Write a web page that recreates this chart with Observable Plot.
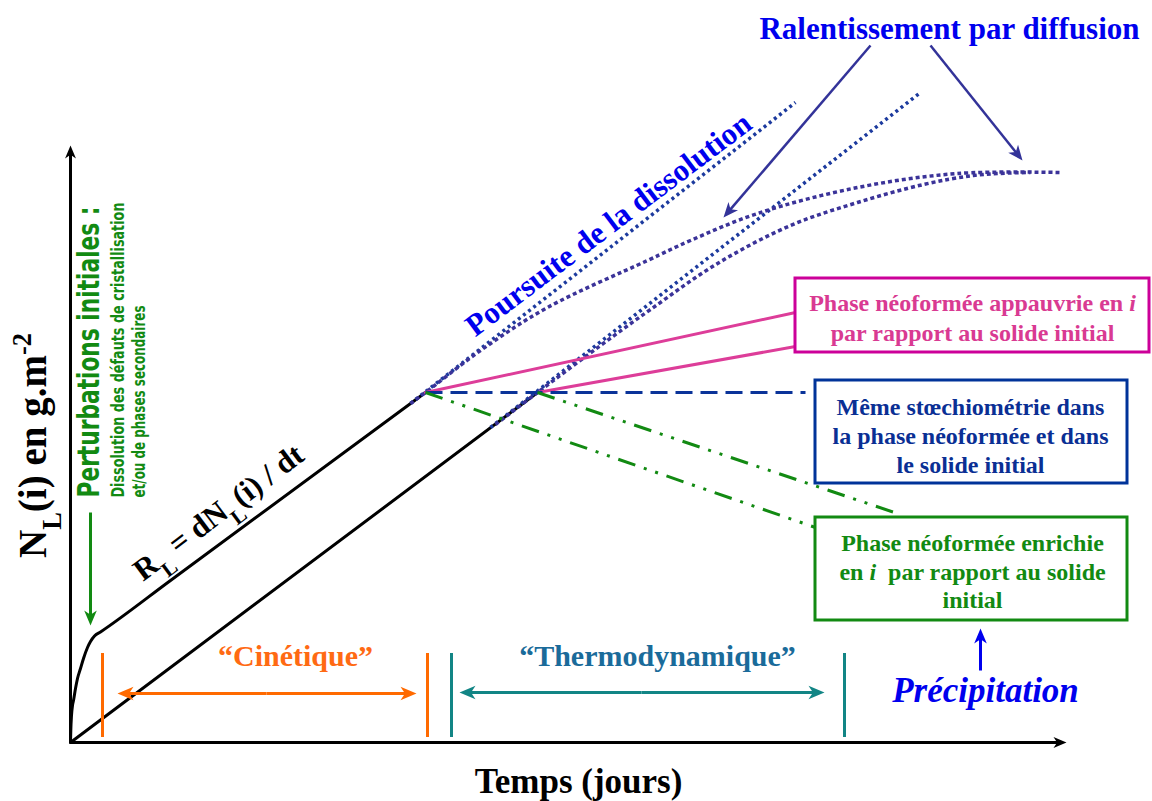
<!DOCTYPE html>
<html><head><meta charset="utf-8">
<script src="https://cdn.jsdelivr.net/npm/d3@7"></script>
<script src="https://cdn.jsdelivr.net/npm/@observablehq/plot@0.6"></script>
<style>body{margin:0;background:#fff} #chart svg{display:block}</style>
</head><body><div id="chart"></div>
<script>
// ---- data (t = temps, n = N_L(i)), schematic units ----
const blackFast = [[0,0],[0.03,1.2],[0.1,2.7],[0.2,3.7],[0.3,4.2],[0.5,5.4],[0.7,6.4],[1.0,7.4],[1.3,8.4],[1.7,9.5],[2.0,10.1],[2.4,10.65],[3.0,11.05],[10,16.2],[35.5,35.0]];
const blackLinear = [[0,0],[46.7,35.0]];
const dissolutionA = [[34.0,33.9],[72.5,64.0]];
const dissolutionB = [[42.0,31.5],[85.0,65.0]];
const diffusionA = [[34.0,33.9],[35.5,35.0],[41.0,39.2],[47.7,43.5],[57.7,48.2],[62.0,50.2],[68.7,52.9],[78.7,55.5],[88.7,56.9],[99.0,57.0]];
const diffusionB = [[42.5,31.8],[46.7,35.0],[53.0,39.7],[58.0,43.3],[64.7,47.9],[72.0,51.7],[78.7,54.0],[85.3,55.8],[90.3,56.7],[94.0,56.95],[96.0,57.0]];
const appauvrieA = [[35.5,35.0],[72.5,43.0]];
const appauvrieB = [[46.7,35.0],[72.5,39.6]];
const memeStoechio = [[35.5,35.0],[73.5,35.0]];
const enrichieA = [[35.5,35.0],[74.5,21.5]];
const enrichieB = [[46.7,35.0],[82.7,22.9]];

const boxPink = [72.5,107.9,39.0,46.4];
const boxBlue = [74.5,105.7,25.9,36.2];
const boxGreen = [74.5,105.7,12.2,22.5];

const barsCinetique = [3.2,35.7];
const barsThermo = [38.1,77.4];
const barSpan = [0.5,8.9];

const axisArrows = [{from:[0,0],to:[0,59.7]},{from:[0,0],to:[99.6,0]}];
const cinetiqueArrows = [{from:[19.6,4.9],to:[4.7,4.9]},{from:[19.6,4.9],to:[34.6,4.9]}];
const thermoArrows = [{from:[57.1,5.0],to:[38.9,5.0]},{from:[57.1,5.0],to:[75.4,5.0]}];
const perturbArrow = [{from:[2.0,23.0],to:[2.0,11.7]}];
const precipArrow = [{from:[91.0,7.2],to:[91.0,11.4]}];
const ralentArrows = [{from:[80.0,69.7],to:[65.3,52.5]},{from:[86.0,69.7],to:[95.2,58.2]}];

const labelsMain = [
  {t:-3.7,n:29.7,s:"N{_L}(i) en g.m{^-2}"},
  {t:50.8,n:-3.9,s:"Temps (jours)"}
];
const textPink = "Phase néoformée appauvrie en {/i}\npar rapport au solide initial";
const textBlue = "Même stœchiométrie dans\nla phase néoformée et dans\nle solide initial";
const textGreen = "Phase néoformée enrichie\nen {/i}  par rapport au solide\ninitial";

// ---- helpers ----
const serif = "'Liberation Serif','Times New Roman',serif";
const narrow = "'Liberation Sans Narrow','Arial Narrow','DejaVu Sans Condensed',sans-serif";
const xy = {x: d => d[0], y: d => d[1]};

function head(ux, uy){
  return {draw(ctx, size){
    const L = Math.sqrt(size/Math.PI);
    const px = -uy, py = ux, bx = -ux, by = -uy;
    const pts = [[0,0],[0.42*L,L],[0,0.72*L],[-0.42*L,L]];
    pts.forEach(([a,b],i) => { const X = a*px+b*bx, Y = a*py+b*by; i ? ctx.lineTo(X,Y) : ctx.moveTo(X,Y); });
    ctx.closePath();
  }};
}
function arrowMarks(list, color, width, L){
  const marks = [];
  for (const a of list){
    const dt = a.to[0]-a.from[0], dn = a.to[1]-a.from[1], len = Math.hypot(dt,dn);
    const cut = 0.6*L/10;
    const end = [a.to[0]-dt/len*cut, a.to[1]-dn/len*cut];
    marks.push(Plot.link([a],{x1:d=>d.from[0],y1:d=>d.from[1],x2:()=>end[0],y2:()=>end[1],stroke:color,strokeWidth:width}));
    marks.push(Plot.dot([a],{x:d=>d.to[0],y:d=>d.to[1],r:L,symbol:head(dt/len,-dn/len),fill:color,stroke:"none"}));
  }
  return marks;
}
function label(t, n, s, o = {}){
  return Plot.text([{t,n,s}], {x:"t", y:"n", text:"s", fontFamily:serif, fontWeight:"bold", ...o});
}
function box(b, color){
  return Plot.rect([b], {x1:d=>d[0], x2:d=>d[1], y1:d=>d[2], y2:d=>d[3], fill:"white", stroke:color, strokeWidth:3});
}
function vbars(xs, color){
  return Plot.ruleX(xs, {x:d=>d, y1:barSpan[0], y2:barSpan[1], stroke:color, strokeWidth:3});
}

const chart = Plot.plot({
  width: 1152, height: 801, margin: 0,
  x: {domain: [-7, 108.2], axis: null},
  y: {domain: [-5.9, 74.2], axis: null},
  style: {background: "white"},
  marks: [
    ...arrowMarks(axisArrows, "black", 3, 13),
    Plot.line(blackFast, {...xy, stroke:"black", strokeWidth:3, curve:"monotone-x"}),
    Plot.line(blackLinear, {...xy, stroke:"black", strokeWidth:3}),
    Plot.line(dissolutionA, {...xy, stroke:"#1c3a9e", strokeWidth:3.5, strokeDasharray:"3,3.5", strokeLinecap:"butt"}),
    Plot.line(dissolutionB, {...xy, stroke:"#1c3a9e", strokeWidth:3.5, strokeDasharray:"3,3.5", strokeLinecap:"butt"}),
    Plot.line(diffusionA, {...xy, stroke:"#3b3399", strokeWidth:3.5, strokeDasharray:"4,3", strokeLinecap:"butt", curve:"catmull-rom"}),
    Plot.line(diffusionB, {...xy, stroke:"#3b3399", strokeWidth:3.5, strokeDasharray:"4,3", strokeLinecap:"butt", curve:"catmull-rom"}),
    Plot.line(appauvrieA, {...xy, stroke:"#dd3d99", strokeWidth:3}),
    Plot.line(appauvrieB, {...xy, stroke:"#dd3d99", strokeWidth:3}),
    Plot.line(memeStoechio, {...xy, stroke:"#0a3399", strokeWidth:3, strokeDasharray:"17,8", strokeLinecap:"butt"}),
    Plot.line(enrichieA, {...xy, stroke:"#128a12", strokeWidth:3, strokeDasharray:"18,9,3,9,3,9", strokeLinecap:"butt"}),
    Plot.line(enrichieB, {...xy, stroke:"#128a12", strokeWidth:3, strokeDasharray:"18,9,3,9,3,9", strokeLinecap:"butt"}),
    box(boxPink, "#cc0099"),
    box(boxBlue, "#003399"),
    box(boxGreen, "#128a12"),
    label(90.2, 42.6, textPink, {fill:"#d93a92", fontSize:24, lineHeight:1.25}),
    label(90.0, 30.8, textBlue, {fill:"#0a2f94", fontSize:24, lineHeight:1.2}),
    label(90.2, 17.2, textGreen, {fill:"#128a12", fontSize:24, lineHeight:1.17}),
    vbars(barsCinetique, "#ff6a00"),
    vbars(barsThermo, "#128585"),
    ...arrowMarks(cinetiqueArrows, "#ff6a00", 3, 16),
    ...arrowMarks(thermoArrows, "#128585", 3, 16),
    ...arrowMarks(perturbArrow, "#128a12", 3, 15),
    ...arrowMarks(precipArrow, "#0000ee", 3, 15),
    ...arrowMarks(ralentArrows, "#333399", 2.5, 15),
    label(22.5, 8.6, "\u201CCinétique\u201D", {fill:"#ff6a13", fontSize:30}),
    label(58.7, 8.6, "\u201CThermodynamique\u201D", {fill:"#1a6b9a", fontSize:30}),
    label(91.5, 5.2, "Précipitation", {fill:"#0000ee", fontSize:35, fontStyle:"italic"}),
    label(87.9, 71.3, "Ralentissement par diffusion", {fill:"#0000ee", fontSize:31}),
    label(53.8, 51.8, "Poursuite de la dissolution", {fill:"#0000ee", fontSize:31, rotate:-37}),
    label(14.8, 23.0, "R{_L} = dN{_L}(i) / dt", {fill:"black", fontSize:31, rotate:-37}),
    label(labelsMain[0].t, labelsMain[0].n, labelsMain[0].s, {fill:"black", fontSize:39, rotate:-90}),
    label(labelsMain[1].t, labelsMain[1].n, labelsMain[1].s, {fill:"black", fontSize:35}),
    label(1.9, 24.5, "Perturbations initiales :", {fill:"#128a12", fontSize:30, rotate:-90, textAnchor:"start", fontFamily:narrow}),
    label(4.8, 24.5, "Dissolution des défauts de cristallisation", {fill:"#128a12", fontSize:18, rotate:-90, textAnchor:"start", fontFamily:narrow}),
    label(6.9, 24.5, "et/ou de phases secondaires", {fill:"#128a12", fontSize:18, rotate:-90, textAnchor:"start", fontFamily:narrow})
  ]
});
document.getElementById("chart").appendChild(chart);

// rich text: {_x} subscript, {^x} superscript, {/x} italic
const NS = "http://www.w3.org/2000/svg";
d3.select(chart).selectAll("text, tspan").each(function(){
  if (this.childNodes.length !== 1 || this.firstChild.nodeType !== 3) return;
  const s = this.textContent;
  if (!s.includes("{")) return;
  const re = /\{([_^\/])([^}]*)\}/g;
  this.textContent = "";
  this.setAttribute("xml:space", "preserve");
  let last = 0, m;
  while ((m = re.exec(s))){
    if (m.index > last) this.appendChild(document.createTextNode(s.slice(last, m.index)));
    const ts = document.createElementNS(NS, "tspan");
    if (m[1] === "_"){ ts.setAttribute("baseline-shift","sub"); ts.setAttribute("font-size","68%"); }
    else if (m[1] === "^"){ ts.setAttribute("baseline-shift","super"); ts.setAttribute("font-size","68%"); }
    else { ts.setAttribute("font-style","italic"); }
    ts.textContent = m[2];
    this.appendChild(ts);
    last = re.lastIndex;
  }
  if (last < s.length) this.appendChild(document.createTextNode(s.slice(last)));
});
// condensed green annotations: match their measured lengths
const lengths = {"Perturbations initiales :":291, "Dissolution des défauts de cristallisation":295, "et/ou de phases secondaires":192};
d3.select(chart).selectAll("text").each(function(){
  const L = lengths[this.textContent];
  if (L){ this.setAttribute("textLength", L); this.setAttribute("lengthAdjust","spacingAndGlyphs"); }
});
</script></body></html>
